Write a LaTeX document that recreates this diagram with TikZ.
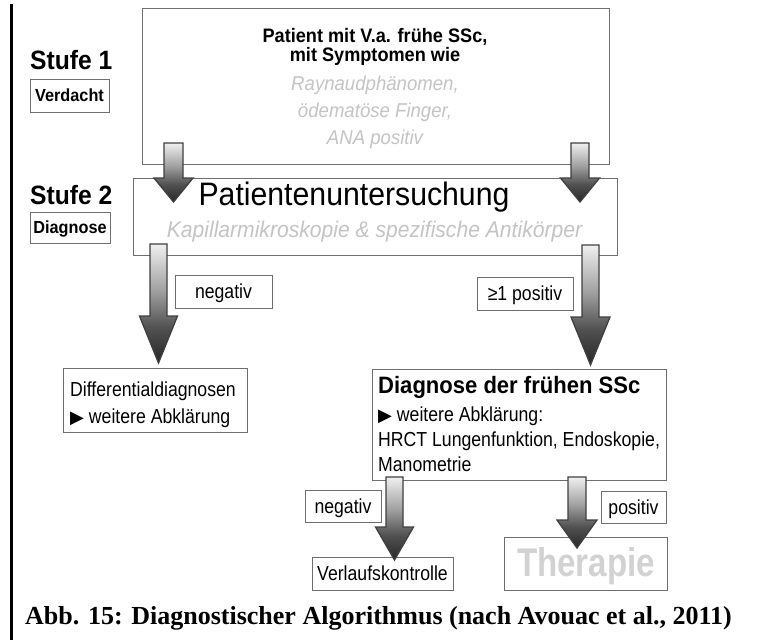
\documentclass[tikz,border=0pt]{standalone}
\usepackage{fontspec}
\newfontfamily\af[FakeStretch=0.93]{Liberation Sans}
\newfontfamily\an[FakeStretch=0.87]{Liberation Sans}
\newfontfamily\capfont{Liberation Serif}
\newfontfamily\symf{DejaVu Sans}
\definecolor{boxgray}{HTML}{6E6E6E}
\definecolor{lighttext}{HTML}{C4C4C4}
\definecolor{thertext}{HTML}{D2D2D2}
\pgfdeclareverticalshading{arrowsh}{100bp}{color(0bp)=(black!85); color(25bp)=(black!85); color(40bp)=(black!68); color(55bp)=(black!38); color(75bp)=(black!6); color(100bp)=(black!6)}
\tikzset{
  box/.style={draw=boxgray, line width=1.1pt, fill=white, inner sep=0pt, anchor=north west},
  blk/.style={draw=black!75, line width=1.3pt, shading=arrowsh},
  txt/.style={inner sep=0pt, anchor=base, font=\an\fontsize{20.3}{23}\selectfont},
  ttl/.style={inner sep=0pt, anchor=base west, font=\af\bfseries\fontsize{26.5}{30}\selectfont},
  tag/.style={inner sep=0pt, anchor=base, font=\af\bfseries\fontsize{17.5}{20}\selectfont},
  gry/.style={inner sep=0pt, anchor=base, text=lighttext, font=\af\itshape\fontsize{20}{24}\selectfont},
}
\newcommand\blockarrow[6]{% cx, top, headbase, tip, half shaft, half head
  \path[blk] ({#1-#5},#2) -- ({#1-#5},#3) -- ({#1-#6},#3) -- (#1,#4) -- ({#1+#6},#3) -- ({#1+#5},#3) -- ({#1+#5},#2) -- cycle;}
\newcommand\tri{{\symf\fontsize{18}{20}\selectfont ▶}}
\begin{document}
\begin{tikzpicture}[x=1pt,y=-1pt]
\useasboundingbox (0,0) rectangle (759,640);
\fill[white] (0,0) rectangle (759,640);
% left rule
\draw[line width=3pt] (11.5,4) coordinate (r1) -- (11.5,640) coordinate (r2);
% stage labels
\node[ttl] (s1) at (30,69) {Stufe 1};
\node[box, minimum width=79pt, minimum height=33pt] (verd) at (30,79) {};
\node[tag] (verdt) at (69.5,101) {Verdacht};
\node[ttl] (s2) at (30,204) {Stufe 2};
\node[box, minimum width=80pt, minimum height=31pt] (diag) at (30,212) {};
\node[tag] (diagt) at (70,233) {Diagnose};
% box 1
\node[box, minimum width=467pt, minimum height=156pt] (b1) at (142,8) {};
\node[txt, font=\af\bfseries\fontsize{19.5}{22}\selectfont] (b1a) at (375,42) {Patient mit V.a. frühe SSc,};
\node[txt, font=\af\bfseries\fontsize{19.5}{22}\selectfont] (b1b) at (375,61) {mit Symptomen wie};
\node[gry] (b1c) at (375,90) {Raynaudphänomen,};
\node[gry] (b1d) at (375,117) {ödematöse Finger,};
\node[gry] (b1e) at (375,144) {ANA positiv};
% box 2
\node[box, minimum width=484pt, minimum height=77pt] (b2) at (133,178) {};
\node[txt, font=\af\fontsize{32.5}{36}\selectfont] (b2a) at (354,205) {Patientenuntersuchung};
\node[gry, font=\af\itshape\fontsize{22.7}{26}\selectfont] (b2b) at (374.5,237) {Kapillarmikroskopie \& spezifische Antikörper};
% labels
\node[box, minimum width=97pt, minimum height=33pt] (neg1) at (175,275) {};
\node[txt] (neg1t) at (223.5,298.5) {negativ};
\node[box, minimum width=96pt, minimum height=33pt] (pos1) at (477,277) {};
\node[txt] (pos1t) at (525,300.5) {≥1 positiv};
% differential
\node[box, minimum width=184pt, minimum height=64pt] (diff) at (63,368) {};
\node[txt, anchor=base west] (diffa) at (70,396) {Differentialdiagnosen};
\node[txt, anchor=base west] (diffb) at (70,423) {\tri\ weitere Abklärung};
% early SSc
\node[box, minimum width=294pt, minimum height=111pt] (ssc) at (372,369) {};
\node[txt, anchor=base west, font=\af\bfseries\fontsize{23.7}{27}\selectfont] (ssca) at (378,393) {Diagnose der frühen SSc};
\node[txt, anchor=base west] (sscb) at (378,421) {\tri\ weitere Abklärung:};
\node[txt, anchor=base west] (sscc) at (378,446) {HRCT Lungenfunktion, Endoskopie,};
\node[txt, anchor=base west] (sscd) at (378,471.5) {Manometrie};
% bottom labels
\node[box, minimum width=76pt, minimum height=32pt] (neg2) at (305,490) {};
\node[txt] (neg2t) at (343,513.5) {negativ};
\node[box, minimum width=65pt, minimum height=32pt] (pos2) at (601,491) {};
\node[txt] (pos2t) at (633.5,514.5) {positiv};
\node[box, minimum width=141pt, minimum height=33pt] (verl) at (312,557) {};
\node[txt] (verlt) at (382.5,580.5) {Verlaufskontrolle};
\node[box, minimum width=163pt, minimum height=53pt] (ther) at (504,537) {};
\node[inner sep=0pt, anchor=base, text=thertext, font=\af\bfseries\fontsize{40}{44}\selectfont] (thert) at (586,576) {\scalebox{0.89}[1]{Therapie}};
% block arrows
\blockarrow{173.5}{143}{178}{202}{9.5}{19.5}
\blockarrow{580}{143}{178}{202}{9}{19.5}
\blockarrow{158.5}{244}{316}{363}{8.5}{19}
\blockarrow{590.5}{245}{317}{365}{8.5}{19.5}
\blockarrow{394.5}{477}{527}{560}{8.5}{19}
\blockarrow{577}{477}{520}{548}{9}{20}
% caption
\node[inner sep=0pt, anchor=base west, font=\capfont\bfseries\fontsize{26}{30}\selectfont] (cap) at (25,624) {Abb. 15: Diagnostischer Algorithmus (nach Avouac et al., 2011)};
\end{tikzpicture}
\end{document}
